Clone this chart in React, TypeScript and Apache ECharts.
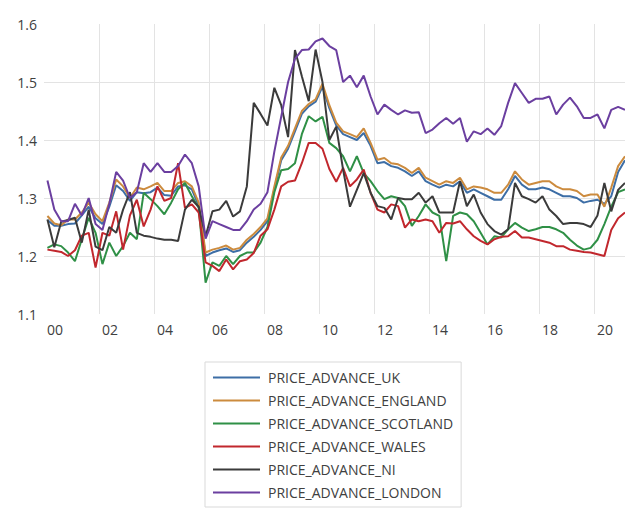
import React, { useEffect, useRef } from "react";
import * as echarts from "echarts";

const seriesNames = [
  "PRICE_ADVANCE_UK",
  "PRICE_ADVANCE_ENGLAND",
  "PRICE_ADVANCE_SCOTLAND",
  "PRICE_ADVANCE_WALES",
  "PRICE_ADVANCE_NI",
  "PRICE_ADVANCE_LONDON",
];

const seriesColors = ["#3d6ea6", "#cc8b3e", "#2f9046", "#c1272d", "#3b3b3b", "#6b3fa0"];

// quarterly observations, 2000 Q1 onwards
const startYear = 2000;

const ukValues = [
  1.262, 1.252, 1.252, 1.255, 1.256, 1.27, 1.285, 1.265, 1.255, 1.285,
  1.322, 1.312, 1.295, 1.31, 1.308, 1.31, 1.318, 1.305, 1.304, 1.32,
  1.322, 1.315, 1.287, 1.2, 1.206, 1.21, 1.213, 1.207, 1.21, 1.223,
  1.233, 1.245, 1.26, 1.315, 1.365, 1.385, 1.415, 1.445, 1.458, 1.466,
  1.492, 1.455, 1.425, 1.41, 1.405, 1.4, 1.412, 1.39, 1.36, 1.362,
  1.355, 1.352, 1.346, 1.338, 1.346, 1.329, 1.323, 1.318, 1.323, 1.32,
  1.329, 1.309, 1.315, 1.309, 1.303, 1.297, 1.297, 1.315, 1.338, 1.323,
  1.315, 1.315, 1.318, 1.315, 1.309, 1.303, 1.303, 1.3, 1.292, 1.295,
  1.297, 1.29, 1.303, 1.345, 1.365,
];

const englandValues = [
  1.269, 1.256, 1.253, 1.263, 1.263, 1.275, 1.292, 1.272, 1.26, 1.292,
  1.332, 1.32, 1.3, 1.318, 1.315, 1.32, 1.326, 1.312, 1.312, 1.326,
  1.329, 1.32, 1.292, 1.206, 1.211, 1.214, 1.218, 1.211, 1.214, 1.228,
  1.238, 1.25, 1.265, 1.32, 1.37, 1.39, 1.42, 1.45, 1.462, 1.47,
  1.497, 1.46, 1.43, 1.415, 1.41, 1.405, 1.42, 1.395, 1.366, 1.369,
  1.36, 1.358, 1.352, 1.343, 1.352, 1.335, 1.329, 1.323, 1.329, 1.326,
  1.335, 1.315, 1.32, 1.318, 1.315, 1.309, 1.309, 1.323, 1.346, 1.332,
  1.323, 1.326, 1.329, 1.329, 1.32, 1.315, 1.315, 1.312, 1.303, 1.306,
  1.306, 1.285, 1.318, 1.355, 1.372,
];

const scotlandValues = [
  1.214, 1.22, 1.217, 1.206, 1.191, 1.229, 1.266, 1.24, 1.186, 1.223,
  1.2, 1.217, 1.24, 1.229, 1.309, 1.298, 1.286, 1.272, 1.292, 1.315,
  1.326, 1.303, 1.283, 1.154, 1.189, 1.183, 1.2, 1.186, 1.2, 1.206,
  1.206, 1.223, 1.25, 1.31, 1.348, 1.35, 1.36, 1.41, 1.441, 1.432,
  1.44, 1.395, 1.386, 1.372, 1.346, 1.372, 1.343, 1.329, 1.312, 1.298,
  1.303, 1.3, 1.286, 1.252, 1.269, 1.289, 1.275, 1.269, 1.191, 1.269,
  1.275, 1.272, 1.26, 1.24, 1.22, 1.234, 1.232, 1.246, 1.257, 1.249,
  1.243, 1.246, 1.25, 1.25, 1.246, 1.24, 1.228, 1.218, 1.211, 1.214,
  1.228, 1.255, 1.285, 1.31, 1.315,
];

const walesValues = [
  1.211, 1.209, 1.207, 1.2, 1.21, 1.235, 1.24, 1.18, 1.24, 1.235,
  1.277, 1.211, 1.27, 1.297, 1.251, 1.28, 1.32, 1.295, 1.3, 1.36,
  1.283, 1.289, 1.275, 1.189, 1.183, 1.174, 1.194, 1.177, 1.191, 1.194,
  1.205, 1.235, 1.246, 1.28, 1.32, 1.328, 1.33, 1.36, 1.395, 1.395,
  1.385, 1.35, 1.328, 1.352, 1.32, 1.332, 1.349, 1.309, 1.28, 1.275,
  1.289, 1.286, 1.249, 1.263, 1.26, 1.263, 1.26, 1.24, 1.257, 1.256,
  1.26, 1.246, 1.234, 1.226, 1.22, 1.229, 1.233, 1.234, 1.243, 1.232,
  1.232, 1.229, 1.226, 1.223, 1.217, 1.217, 1.211, 1.209, 1.207, 1.206,
  1.203, 1.2, 1.245, 1.265, 1.275,
];

const niValues = [
  1.263, 1.215, 1.259, 1.262, 1.266, 1.223, 1.28, 1.216, 1.21, 1.25,
  1.24, 1.28, 1.31, 1.24, 1.235, 1.233, 1.23, 1.228, 1.228, 1.226,
  1.28, 1.297, 1.285, 1.234, 1.277, 1.28, 1.295, 1.268, 1.277, 1.32,
  1.464, 1.445, 1.425, 1.49, 1.46, 1.405, 1.555, 1.51, 1.467, 1.556,
  1.5, 1.4, 1.423, 1.349, 1.285, 1.314, 1.343, 1.309, 1.286, 1.283,
  1.263, 1.3, 1.298, 1.298, 1.309, 1.292, 1.303, 1.275, 1.275, 1.275,
  1.329, 1.286, 1.306, 1.275, 1.255, 1.243, 1.237, 1.246, 1.326, 1.303,
  1.298, 1.292, 1.303, 1.28, 1.269, 1.255, 1.257, 1.257, 1.255, 1.25,
  1.27, 1.326, 1.277, 1.314, 1.326,
];

const londonValues = [
  1.33, 1.28, 1.26, 1.26, 1.29, 1.27, 1.3, 1.255, 1.245, 1.29,
  1.345, 1.33, 1.3, 1.31, 1.36, 1.345, 1.36, 1.345, 1.345, 1.355,
  1.375, 1.36, 1.32, 1.23, 1.26, 1.255, 1.25, 1.245, 1.245, 1.26,
  1.28, 1.29, 1.31, 1.38, 1.44, 1.5, 1.54, 1.555, 1.556, 1.57,
  1.575, 1.562, 1.555, 1.5, 1.511, 1.491, 1.511, 1.475, 1.444, 1.461,
  1.452, 1.444, 1.451, 1.447, 1.448, 1.412, 1.418, 1.429, 1.438, 1.428,
  1.438, 1.397, 1.415, 1.41, 1.42, 1.409, 1.424, 1.464, 1.498, 1.481,
  1.464, 1.471, 1.471, 1.475, 1.444, 1.461, 1.473, 1.458, 1.438, 1.438,
  1.444, 1.42, 1.452, 1.457, 1.452,
];

const allValues = [ukValues, englandValues, scotlandValues, walesValues, niValues, londonValues];

const yTicks = [1.1, 1.2, 1.3, 1.4, 1.5, 1.6];

const FONT = "'Open Sans', 'Noto Sans', sans-serif";

export default function App() {
  const ref = useRef<HTMLDivElement>(null);

  useEffect(() => {
    document.body.style.margin = "0";
    if (!ref.current) return;
    const chart = echarts.init(ref.current, undefined, { renderer: "svg" });

    const toPairs = (vals: number[]) =>
      vals.map((v, i) => [startYear + (i + 0.5) / 4, v]);

    const lastX = startYear + allValues[0].length / 4 - 0.125;

    chart.setOption({
      animation: false,
      backgroundColor: "#ffffff",
      textStyle: { fontFamily: FONT },
      grid: { left: 44, right: 0, top: 24, bottom: 195, containLabel: false },
      xAxis: {
        type: "value",
        min: startYear,
        max: lastX,
        interval: 2,
        axisLine: { show: false },
        axisTick: { show: false },
        splitLine: {
          show: true,
          showMinLine: false,
          showMaxLine: false,
          lineStyle: { color: "#e3e3e3", width: 1 },
        },
        axisLabel: {
          show: true,
          align: "left",
          margin: 8,
          padding: [0, 0, 0, 3],
          color: "#404040",
          fontSize: 14,
          fontFamily: FONT,
          showMaxLabel: false,
          formatter: (v: number) => {
            if (Math.abs(v - Math.round(v)) > 1e-6) return "";
            const yy = Math.round(v) % 100;
            return yy < 10 ? "0" + yy : String(yy);
          },
        },
      },
      yAxis: {
        type: "value",
        min: yTicks[0],
        max: yTicks[yTicks.length - 1],
        interval: 0.1,
        axisLine: { show: false },
        axisTick: { show: false },
        splitLine: {
          show: true,
          showMinLine: false,
          showMaxLine: false,
          lineStyle: { color: "#e3e3e3", width: 1 },
        },
        axisLabel: {
          margin: 7,
          color: "#404040",
          fontSize: 14,
          fontFamily: FONT,
          formatter: (v: number) => v.toFixed(1),
        },
      },
      legend: {
        show: true,
        orient: "vertical",
        left: 205,
        top: 362,
        padding: [4, 8, 3, 8],
        itemGap: 0,
        itemWidth: 47,
        itemHeight: 2,
        icon: "rect",
        borderColor: "#d9d9d9",
        borderWidth: 1,
        textStyle: {
          color: "#404040",
          fontSize: 14,
          fontFamily: FONT,
          lineHeight: 23,
          padding: [0, 0, 0, 3],
        },
        data: seriesNames,
      },
      series: seriesNames.map((name, k) => ({
        name,
        type: "line",
        data: toPairs(allValues[k]),
        showSymbol: false,
        symbol: "none",
        lineStyle: { color: seriesColors[k], width: 2 },
        itemStyle: { color: seriesColors[k] },
        z: 2 + k,
      })),
    });

    return () => chart.dispose();
  }, []);

  return <div ref={ref} style={{ width: 625, height: 509 }} />;
}
